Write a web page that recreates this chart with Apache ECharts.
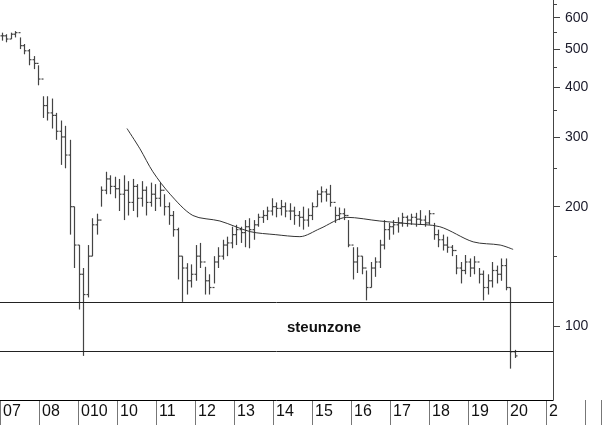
<!DOCTYPE html>
<html><head><meta charset="utf-8">
<script src="https://cdn.jsdelivr.net/npm/echarts@6/dist/echarts.min.js"></script>
<style>html,body{margin:0;padding:0;background:#fff}#c{width:604px;height:425px}</style>
</head><body><div id="c"></div>
<script>
// bar x positions in years, high, low, close
const barYears = [];
const barHigh = [550,545,550,555,535,515,500,480,455,380,380,375,345,330,320,295,200,160,140,160,187,192,225,245,240,238,235,240,232,235,228,232,225,230,228,230,215,205,195,177,150,144,143,160,162,141,135,150,158,165,168,178,180,178,185,187,185,192,196,200,210,205,208,205,204,200,195,200,198,205,220,225,222,227,200,199,198,185,158,158,150,138,145,149,165,185,182,185,188,193,190,192,193,196,190,196,182,175,170,168,160,151,145,151,148,150,140,138,135,145,142,148,148,125,87];
const barLow  = [525,520,530,535,500,485,455,445,405,335,330,315,295,255,250,170,140,110,84,118,150,170,200,215,215,210,195,185,190,195,188,200,190,200,195,200,190,180,168,131,115,120,125,130,140,120,120,128,140,147,150,157,160,162,158,157,165,178,182,185,190,188,190,188,185,180,178,175,178,185,200,205,206,200,182,185,185,158,131,136,135,116,125,133,140,156,165,170,172,178,178,180,178,180,178,180,165,158,155,153,150,135,128,135,133,135,128,116,120,125,128,130,123,78,83];
const barClose= [540,530,545,550,510,495,470,460,420,360,345,340,310,300,270,200,160,135,120,150,180,185,220,235,225,222,215,220,205,225,210,220,205,215,210,220,200,190,175,150,140,130,135,150,145,130,125,145,150,160,162,170,175,172,178,175,180,188,190,195,200,198,200,195,195,190,188,185,190,200,215,218,215,205,190,192,190,160,145,150,140,125,140,145,160,175,178,180,182,188,185,188,186,185,182,192,170,165,160,158,155,140,138,145,140,145,135,125,130,138,135,142,125,86,84];
for (let i = 0; i < barHigh.length; i++) barYears.push(2007 + (2 + 4.5 * i) / 39.2);
// moving average [year, value]
const maYears = [2010.24,2010.57,2010.90,2011.34,2011.92,2012.61,2013.38,2014.02,2014.65,2015.16,2015.85,2016.69,2017.46,2018.22,2019.07,2019.76,2020.09];
const maValues = [315,280,245,215,190,184,173,170,168,176,188,184,181,178,163,160,156];
const supportLevels = [115, 86.5];
const yLabels = [100,200,300,400,500,600];
const yMinor = [150,250,350,450,550,650];
const xTickLabels = ['07','08','010','10','11','12','13','14','15','16','17','18','19','20','2'];

const ohlc = barYears.map((y,i)=>[y, i===0?barClose[0]:barClose[i-1], barClose[i], barLow[i], barHigh[i]]);
const chart = echarts.init(document.getElementById('c'));
const FONT = 'Liberation Sans, Arial, sans-serif';
const yBase = {type:'log', logBase:10, min:65, max:665, position:'right', splitLine:{show:false}};
chart.setOption({
  animation:false,
  grid:[{left:0,right:51,top:0,bottom:25},{left:0,right:0,top:400,bottom:0}],
  xAxis:[
    {type:'value',gridIndex:0,min:2007,max:2007+553/39.2,axisLine:{show:true,onZero:false,lineStyle:{color:'#000'}},axisTick:{show:false},axisLabel:{show:false},splitLine:{show:false}},
    {type:'value',gridIndex:1,min:2007,max:2007+604/39.2,interval:1,position:'top',axisLine:{show:false},axisTick:{show:false},
     splitLine:{show:true,lineStyle:{color:'#777',width:1}},
     axisLabel:{show:true,inside:true,align:'left',margin:4,padding:[0,0,0,3],
       formatter:(v)=>{const i=Math.round(v-2007);return xTickLabels[i]||'';},fontSize:16,color:'#111',fontFamily:FONT}}
  ],
  yAxis:[
    Object.assign({},yBase,{gridIndex:0,axisLine:{show:true,lineStyle:{color:'#444'}},
      axisTick:{show:true,inside:false,length:7,customValues:yLabels,lineStyle:{color:'#444'}},
      axisLabel:{customValues:yLabels,margin:12,fontSize:14,color:'#1a1a2a',fontFamily:FONT}}),
    Object.assign({},yBase,{gridIndex:0,axisLine:{show:false},
      axisTick:{show:true,inside:false,length:4,customValues:yMinor,lineStyle:{color:'#444'}},
      axisLabel:{show:false}}),
    {type:'value',gridIndex:1,min:0,max:1,show:false}
  ],
  series:[
    {type:'custom',xAxisIndex:0,yAxisIndex:0,data:ohlc,
     renderItem:(params,api)=>{
       const x=api.value(0);
       const o=api.coord([x,api.value(1)]), c=api.coord([x,api.value(2)]);
       const l=api.coord([x,api.value(3)]), h=api.coord([x,api.value(4)]);
       const px=Math.round(h[0])+0.5;
       const st={stroke:'#444',lineWidth:1.2};
       return {type:'group',children:[
         {type:'line',shape:{x1:px,y1:h[1],x2:px,y2:l[1]},style:st},
         {type:'line',shape:{x1:px-2,y1:o[1],x2:px,y2:o[1]},style:st},
         {type:'line',shape:{x1:px,y1:c[1],x2:px+2,y2:c[1]},style:st}
       ]};
     },
     markLine:{silent:true,symbol:'none',label:{show:false},lineStyle:{color:'#222',width:1,type:'solid'},
       data:supportLevels.map(v=>({yAxis:v}))}
    },
    {type:'line',xAxisIndex:0,yAxisIndex:0,data:maYears.map((y,i)=>[y,maValues[i]]),smooth:0.3,showSymbol:false,
     lineStyle:{color:'#333',width:1}}
  ],
  graphic:[{type:'text',left:287,top:320,style:{text:'steunzone',font:'bold 15px '+FONT,fill:'#111'}}]
});
</script></body></html>
